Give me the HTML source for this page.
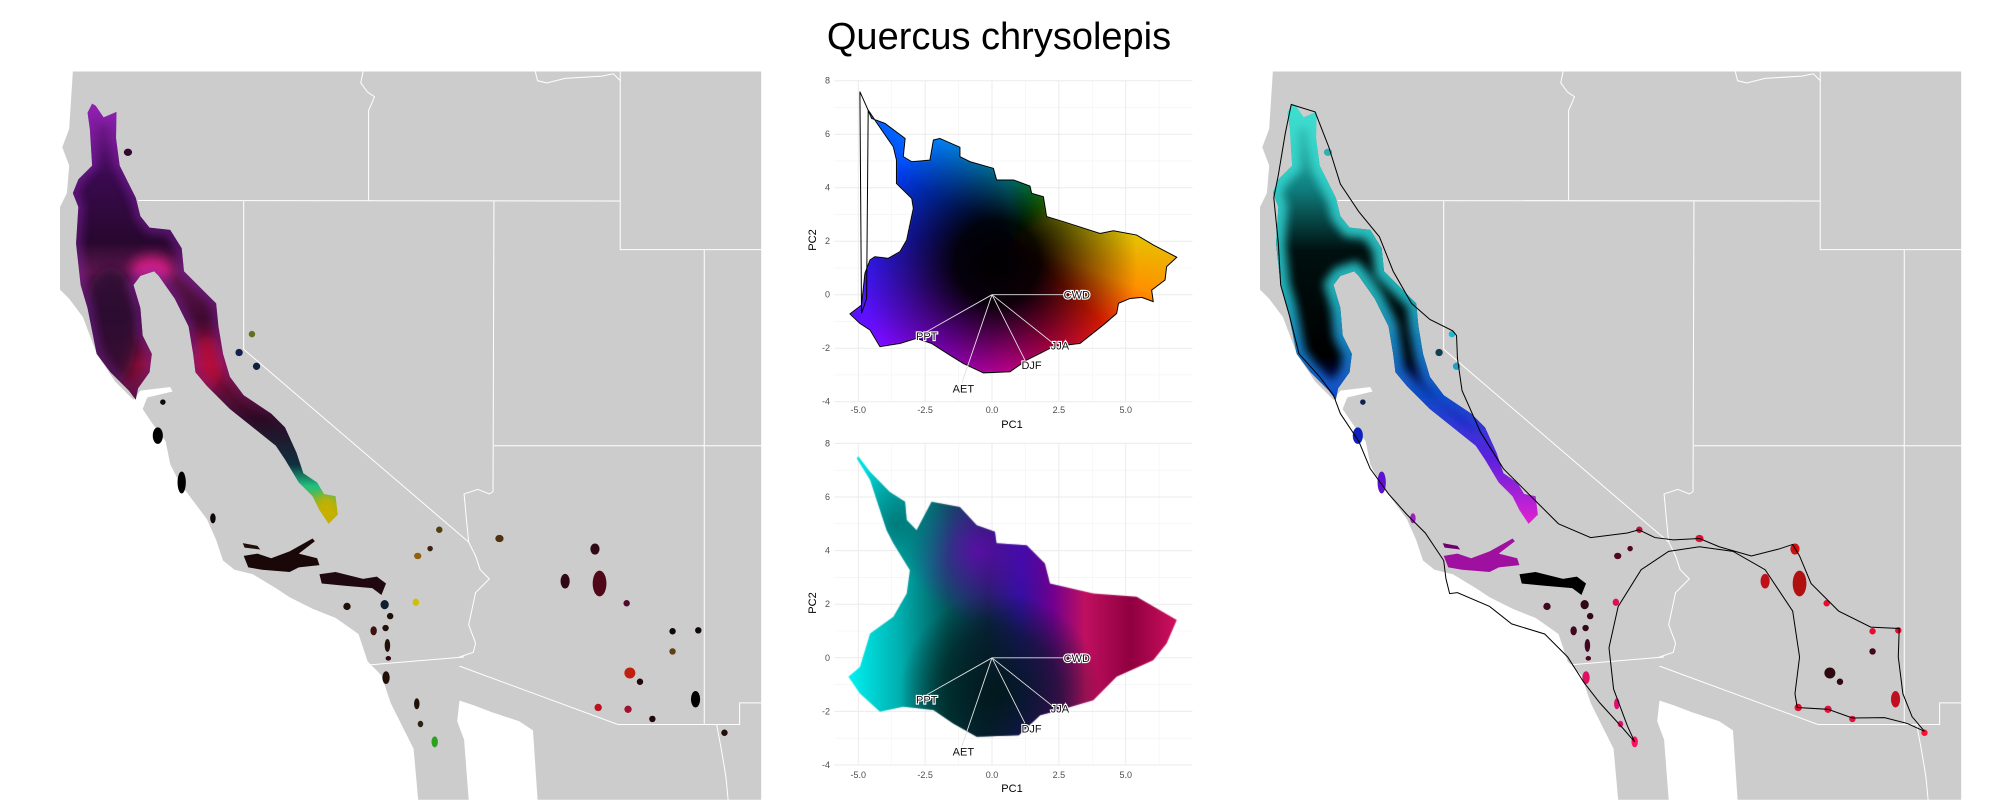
<!DOCTYPE html>
<html><head><meta charset="utf-8"><style>
html,body{margin:0;padding:0;background:#fff;}
#wrap{position:relative;width:2000px;height:800px;overflow:hidden;font-family:"Liberation Sans",sans-serif;}
svg,canvas{position:absolute;left:0;top:0;}
</style></head><body>
<div id="wrap">
<svg id="base" width="2000" height="800">
<text x="999" y="49" text-anchor="middle" font-size="38" fill="#000">Quercus chrysolepis</text>
<defs>
 <linearGradient id="gL" gradientUnits="userSpaceOnUse" x1="0" y1="95" x2="0" y2="1010">
  <stop offset="0" stop-color="#8a20a8"/><stop offset="0.17" stop-color="#3a0a50"/><stop offset="0.33" stop-color="#28082e"/>
  <stop offset="0.4" stop-color="#601850"/><stop offset="0.51" stop-color="#400a30"/><stop offset="0.62" stop-color="#901038"/>
  <stop offset="0.75" stop-color="#2a0a20"/><stop offset="0.86" stop-color="#103040"/><stop offset="0.91" stop-color="#20c080"/><stop offset="0.97" stop-color="#c0b000"/>
 </linearGradient>
 <linearGradient id="gR" gradientUnits="userSpaceOnUse" x1="0" y1="95" x2="0" y2="1010">
  <stop offset="0" stop-color="#40d8c8"/><stop offset="0.2" stop-color="#108080"/><stop offset="0.35" stop-color="#001010"/>
  <stop offset="0.6" stop-color="#000"/><stop offset="0.75" stop-color="#0818b0"/><stop offset="0.85" stop-color="#5020d0"/><stop offset="0.95" stop-color="#e020d0"/>
 </linearGradient>
 <linearGradient id="gRs" gradientUnits="userSpaceOnUse" x1="0" y1="95" x2="0" y2="1010">
  <stop offset="0" stop-color="#40e0d0"/><stop offset="0.45" stop-color="#20b8c0"/><stop offset="0.7" stop-color="#1050d0"/><stop offset="0.85" stop-color="#6020e0"/><stop offset="1" stop-color="#e020d0"/>
 </linearGradient>
 <linearGradient id="gLs" gradientUnits="userSpaceOnUse" x1="0" y1="95" x2="0" y2="1010">
  <stop offset="0" stop-color="#9a20c0"/><stop offset="0.6" stop-color="#7a20a0"/><stop offset="0.8" stop-color="#7a20a0" stop-opacity="0"/><stop offset="1" stop-color="#7a20a0" stop-opacity="0"/>
 </linearGradient>
 <filter id="blur" x="-20%" y="-20%" width="140%" height="140%"><feGaussianBlur stdDeviation="10"/></filter>
 <filter id="blur2" x="-50%" y="-50%" width="200%" height="200%"><feGaussianBlur stdDeviation="14"/></filter>
 <clipPath id="mainClip"><path id="mainShapeDef" d=""/></clipPath>
</defs>
<g id="mapL" transform="translate(60,60) scale(0.4592)"></g>
<g id="mapR" transform="translate(1260,60) scale(0.4592)"></g>
<g id="axesTop"></g>
<g id="axesBot"></g>
</svg>
<canvas id="cv" width="2000" height="800"></canvas>
<svg id="over" width="2000" height="800"></svg>
</div>
<script>
// ---- scatter data (PC space) ----
const xTicks=[-5,-2.5,0,2.5,5];
const xTickLabels=["-5.0","-2.5","0.0","2.5","5.0"];
const yTicks=[-4,-2,0,2,4,6,8];
const yTickLabels=["-4","-2","0","2","4","6","8"];
const loadNames=["CWD","JJA","DJF","AET","PPT"];
const loadX=[2.73,2.29,1.23,-1.13,-2.44];
const loadY=[0,-1.82,-2.44,-3.31,-1.38];
const labelX=[3.17,2.54,1.48,-1.07,-2.44];
const labelY=[0,-1.9,-2.63,-3.5,-1.55];
const hullTopX=[-4.94,-4.69,-4.50,-4.00,-3.25,-3.32,-3.00,-2.32,-2.19,-1.95,-1.20,-1.20,-0.82,0.05,0.17,0.80,1.42,1.48,1.92,2.04,2.67,4.04,4.54,5.41,6.03,6.91,6.53,6.47,5.97,6.03,5.60,5.16,4.73,4.66,4.16,3.29,2.29,1.80,1.30,0.67,-0.32,-1.07,-1.57,-2.26,-2.82,-3.44,-4.19,-4.56,-4.94,-5.31,-4.88,-4.75,-4.56,-4.38,-3.88,-3.44,-3.19,-2.94,-3.00,-3.57,-3.57,-3.69,-4.38,-4.63,-4.69,-4.88];
const hullTopY=[7.59,7.03,6.59,6.40,5.84,5.16,4.97,5.03,5.78,5.84,5.51,5.16,4.97,4.72,4.29,4.29,4.06,3.79,3.66,2.92,2.73,2.29,2.39,2.23,1.86,1.40,1.05,0.55,0.17,-0.26,-0.10,-0.14,-0.32,-0.70,-1.13,-1.82,-1.94,-2.19,-2.44,-2.88,-2.92,-2.57,-2.26,-1.82,-1.63,-1.82,-1.94,-1.32,-1.07,-0.72,-0.39,0.80,1.30,1.42,1.36,1.61,2.04,3.23,3.60,4.16,5.03,5.53,6.53,6.90,-0.14,-0.70];
const hullBotX=[-5.0,-4.56,-3.82,-3.25,-3.19,-2.82,-2.26,-1.20,-0.57,0.11,0.17,1.30,1.98,2.17,3.79,4.54,5.41,6.91,6.53,6.03,4.66,3.79,2.54,1.80,1.00,-0.57,-1.45,-2.19,-3.32,-4.19,-4.94,-5.37,-4.94,-4.56,-3.69,-3.19,-3.07,-3.69,-3.94,-4.56,-5.06];
const hullBotY=[7.52,6.94,6.19,5.82,5.14,4.76,5.82,5.63,4.95,4.70,4.27,4.20,3.52,2.77,2.40,2.34,2.28,1.41,0.53,-0.09,-0.71,-1.58,-1.95,-2.14,-2.89,-2.95,-2.45,-1.95,-1.83,-2.01,-1.33,-0.71,-0.34,0.91,1.53,2.40,3.27,4.27,4.76,6.63,7.44];

const NS='http://www.w3.org/2000/svg';
function mk(tag,attrs,parent){const e=document.createElementNS(NS,tag);for(const k in attrs)e.setAttribute(k,attrs[k]);if(parent)parent.appendChild(e);return e;}

const sx=v=>992+v*26.74;
const syTop=v=>294.7-v*26.75;
const syBot=v=>657.8-v*26.8;

function drawAxes(g,sy,tickY,titleY,pc2Y){
  const x0=sx(-5.9),x1=sx(7.5),y0=sy(-4),y1=sy(8);
  for(let v=-3.75;v<7.5;v+=2.5){const l=mk('line',{x1:sx(v),x2:sx(v),y1:y1,y2:y0,stroke:'#f2f2f2','stroke-width':0.6},g);}
  for(let v=-3;v<8;v+=2){const l=mk('line',{x1:x0,x2:x1,y1:sy(v),y2:sy(v),stroke:'#f2f2f2','stroke-width':0.6},g);}
  xTicks.forEach((v,i)=>{const l=mk('line',{x1:sx(v),x2:sx(v),y1:y1,y2:y0,stroke:'#ebebeb','stroke-width':1},g);
    const t=mk('text',{x:sx(v),y:tickY,'text-anchor':'middle','font-size':9,fill:'#4d4d4d'},g);t.textContent=xTickLabels[i];});
  yTicks.forEach((v,i)=>{const l=mk('line',{x1:x0,x2:x1,y1:sy(v),y2:sy(v),stroke:'#ebebeb','stroke-width':1},g);
    const t=mk('text',{x:830,y:sy(v)+3,'text-anchor':'end','font-size':9,fill:'#4d4d4d'},g);t.textContent=yTickLabels[i];});
  const a=mk('text',{x:1012,y:titleY,'text-anchor':'middle','font-size':11,fill:'#000'},g);a.textContent='PC1';
  const b=mk('text',{x:816,y:pc2Y,'text-anchor':'middle','font-size':11,fill:'#000',transform:'rotate(-90 816 '+pc2Y+')'},g);b.textContent='PC2';
}
drawAxes(document.getElementById('axesTop'),syTop,413,428,240);
drawAxes(document.getElementById('axesBot'),syBot,778,792,603);

const cv=document.getElementById('cv');const ctx=cv.getContext('2d');
function hullPath(X,Y,sy){ctx.beginPath();X.forEach((v,i)=>{const px=sx(v),py=sy(Y[i]);i?ctx.lineTo(px,py):ctx.moveTo(px,py);});ctx.closePath();}
// top: fill the point cloud (hull minus the closing vertical strip)
ctx.save();hullPath(hullTopX.slice(0,-2),hullTopY.slice(0,-2),syTop);ctx.clip();
const cx=sx(0.8),cy=syTop(2.1);
if(ctx.createConicGradient){
 const cg=ctx.createConicGradient(0,cx,cy);
 [[0,'#e8c000'],[0.06,'#ff9000'],[0.12,'#ff2000'],[0.2,'#ff0060'],[0.26,'#ff00c0'],[0.34,'#b000ff'],[0.42,'#6010ff'],[0.5,'#2020ff'],[0.58,'#0040ff'],[0.66,'#0090ff'],[0.73,'#00d0f0'],[0.8,'#00e060'],[0.86,'#40e000'],[0.93,'#e0e000'],[1,'#e8c000']].forEach(s=>cg.addColorStop(s[0],s[1]));
 ctx.fillStyle=cg;
}else ctx.fillStyle='#600060';
ctx.fillRect(800,60,420,360);
const rcx=sx(0.2),rcy=syTop(1.2);
const rg=ctx.createRadialGradient(rcx,rcy,0,rcx,rcy,140);
rg.addColorStop(0,'rgba(0,0,0,1)');rg.addColorStop(0.3,'rgba(0,0,0,0.95)');rg.addColorStop(0.65,'rgba(0,0,0,0.45)');rg.addColorStop(1,'rgba(0,0,0,0)');
ctx.fillStyle=rg;ctx.fillRect(800,60,420,360);
ctx.restore();
// bottom
ctx.save();hullPath(hullBotX,hullBotY,syBot);ctx.clip();
const lg=ctx.createLinearGradient(sx(-5.3),0,sx(6.9),0);
[[0,'#00f0f0'],[0.15,'#00b0b0'],[0.3,'#005858'],[0.42,'#102850'],[0.52,'#3010a0'],[0.62,'#700090'],[0.72,'#c01060'],[0.86,'#900040'],[1,'#d01060']].forEach(s=>lg.addColorStop(s[0],s[1]));
ctx.fillStyle=lg;ctx.fillRect(800,430,420,360);
const rg2=ctx.createRadialGradient(sx(0.3),syBot(-1.3),0,sx(0.3),syBot(-1.3),100);
rg2.addColorStop(0,'rgba(0,25,25,0.95)');rg2.addColorStop(0.6,'rgba(0,25,25,0.6)');rg2.addColorStop(1,'rgba(0,25,25,0)');
ctx.fillStyle=rg2;ctx.fillRect(800,430,420,360);
const rg3=ctx.createRadialGradient(sx(-0.5),syBot(4),0,sx(-0.5),syBot(4),70);
rg3.addColorStop(0,'rgba(120,0,200,0.7)');rg3.addColorStop(1,'rgba(120,0,200,0)');
ctx.fillStyle=rg3;ctx.fillRect(800,430,420,360);
const rg4=ctx.createRadialGradient(sx(-3.6),syBot(5),0,sx(-3.6),syBot(5),60);
rg4.addColorStop(0,'rgba(0,110,110,0.8)');rg4.addColorStop(1,'rgba(0,110,110,0)');
ctx.fillStyle=rg4;ctx.fillRect(800,430,420,360);
ctx.restore();

const ov=document.getElementById('over');
const hp=mk('polygon',{points:hullTopX.map((v,i)=>sx(v)+','+syTop(hullTopY[i])).join(' '),fill:'none',stroke:'#000','stroke-width':1},ov);

[[syTop,'top'],[syBot,'bottom']].forEach(([sy,nm])=>{
 loadNames.forEach((n,i)=>{
  const l=mk('line',{x1:sx(0),y1:sy(0),x2:sx(loadX[i]),y2:sy(loadY[i]),stroke:'#e0e0e0','stroke-width':0.9},ov);
  
  const t=mk('text',{x:sx(labelX[i]),y:sy(labelY[i])+4,'text-anchor':'middle','font-size':11,fill:'#111',stroke:'#fff','stroke-width':2.2,'paint-order':'stroke'},ov);
  t.textContent=n;
 });
});

// ---- maps ----
const landD="M28,25 L1527,25 L1527,1611 L1040,1611 L1030,1460 L1000,1440 L940,1420 L900,1405 L870,1395 L865,1440 L880,1480 L890,1611 L780,1611 L770,1500 L740,1440 L720,1400 L700,1340 L670,1310 L650,1250 L600,1215 L550,1195 L500,1170 L470,1150 L420,1120 L380,1110 L355,1090 L340,1045 L320,1000 L290,960 L260,920 L240,880 L230,830 L200,790 L180,760 L190,735 L245,722 L240,712 L175,720 L160,740 L120,700 L80,640 L50,560 L20,520 L0,500 L0,320 L15,290 L20,230 L5,190 L20,150 Z";
const stateLines=["M170,306 L1220,307","M660,25 L655,50 L670,70 L685,80 L672,110 L672,307","M1035,25 L1040,45 L1060,50 L1100,40 L1180,35 L1205,30 L1220,45","M1220,25 L1220,413 L1527,413","M400,307 L400,630 L890,1050","M945,307 L943,940 L935,945 L910,935 L880,945 L885,1000 L890,1050 L905,1080 L915,1110 L935,1130 L905,1160 L890,1230 L905,1270 L900,1290 L870,1300","M945,840 L1527,840","M1403,413 L1403,1447","M665,1318 L880,1300","M870,1320 L1215,1447 L1480,1447 L1480,1400 L1527,1400","M1430,1447 L1440,1500 L1450,1560 L1455,1611"];
const mainD="M70,95 L78,100 L95,125 L123,113 L122,170 L130,230 L165,300 L175,340 L195,365 L240,370 L265,410 L270,460 L320,510 L340,530 L345,580 L355,640 L370,690 L400,730 L460,770 L490,800 L515,855 L530,900 L560,920 L575,945 L600,950 L605,990 L585,1010 L565,980 L550,950 L520,920 L490,870 L470,840 L420,800 L370,760 L320,710 L295,680 L290,640 L280,580 L250,520 L215,470 L205,460 L175,470 L160,490 L175,540 L180,600 L200,640 L195,680 L170,715 L165,740 L150,720 L110,680 L80,640 L60,540 L45,490 L35,400 L40,320 L28,290 L40,260 L70,230 L65,150 L60,115 Z";
const transD=["M400,1080 L430,1075 L460,1085 L500,1070 L550,1042 L555,1048 L520,1075 L560,1085 L565,1100 L520,1105 L500,1115 L440,1110 L410,1105 Z","M565,1120 L600,1115 L660,1130 L690,1125 L710,1140 L700,1165 L680,1150 L620,1145 L570,1140 Z","M398,1052 L430,1058 L436,1066 L402,1062 Z"];
const transColL=["#1a0808","#200810","#201008"],transColR=["#a010a0","#000000","#700070"];
const blobs=[[148,201,9,8,'#300830','#30b0b0'],[418,597,7,7,'#607020','#20b8d0'],[390,637,8,8,'#102050','#104050'],[428,667,8,8,'#102040','#20a0c8'],[224,745,6,6,'#100810','#102050'],[213,818,11,18,'#000','#1020c0'],[265,920,9,24,'#000','#6010d0'],[333,998,6,11,'#100808','#a020c0'],[826,1023,7,7,'#504010','#c01040'],[957,1042,9,8,'#503010','#e01030'],[806,1064,6,6,'#402010','#500820'],[779,1080,8,7,'#906010','#500820'],[1165,1065,10,12,'#300818','#d01010'],[1100,1135,10,16,'#300818','#c01018'],[1175,1140,15,28,'#500818','#b01010'],[775,1181,7,8,'#d0c000','#e01050'],[1234,1183,7,7,'#500830','#e01030'],[625,1190,8,8,'#201008','#400820'],[707,1186,9,10,'#102030','#300818'],[719,1211,7,7,'#201008','#300818'],[683,1243,7,10,'#401010','#400820'],[709,1237,7,7,'#201008','#300818'],[713,1275,6,14,'#201008','#400820'],[715,1303,6,5,'#300810','#500820'],[1334,1244,7,7,'#100808','#e01030'],[1390,1242,7,7,'#100808','#e01030'],[1334,1288,7,7,'#604010','#400818'],[1241,1335,12,12,'#c02010','#300810'],[1263,1354,7,7,'#200808','#300810'],[710,1345,8,14,'#201008','#e01060'],[1384,1392,10,18,'#000','#c01020'],[1172,1410,8,8,'#c01020','#e01030'],[1237,1414,8,8,'#a01030','#e01040'],[1290,1435,7,7,'#200808','#e01040'],[1447,1465,7,7,'#201008','#ff1030'],[777,1402,6,12,'#201008','#e01070'],[785,1446,6,7,'#302010','#e01070'],[816,1485,7,12,'#30a020','#ff1060']];
const hullRD="M68,97 L120,113 L150,190 L175,270 L215,330 L260,385 L290,460 L330,530 L370,565 L420,590 L428,600 L430,650 L440,720 L480,810 L530,890 L600,960 L650,1010 L720,1040 L800,1030 L825,1023 L860,1040 L900,1045 L957,1042 L1000,1060 L1070,1080 L1130,1065 L1160,1055 L1175,1080 L1200,1140 L1260,1200 L1330,1235 L1392,1238 L1390,1300 L1400,1380 L1420,1430 L1447,1462 L1410,1445 L1360,1432 L1290,1433 L1237,1414 L1170,1410 L1165,1380 L1175,1300 L1160,1200 L1100,1110 L1030,1070 L957,1060 L890,1070 L830,1110 L780,1190 L760,1280 L770,1370 L800,1450 L816,1485 L790,1455 L740,1400 L705,1355 L670,1300 L620,1250 L548,1228 L500,1190 L430,1160 L413,1162 L405,1130 L400,1090 L360,1030 L320,990 L280,945 L240,890 L215,830 L175,770 L160,730 L130,690 L85,640 L65,560 L45,490 L40,400 L30,300 L40,250 L55,160 Z";

document.getElementById('mainShapeDef').setAttribute('d',mainD);
function drawMap(g,side){
 const land=mk('path',{d:landD,fill:'#cccccc'},g);
 stateLines.forEach(d=>{const p=mk('path',{d:d,fill:'none',stroke:'#fff','stroke-width':2.2},g);});
 const m=mk('path',{d:mainD,fill:side==='L'?'url(#gL)':'url(#gR)'},g);
 const cg=mk('g',{'clip-path':'url(#mainClip)'},g);
 
 if(side==='R'){
  const s=mk('path',{d:mainD,fill:'none',stroke:'url(#gRs)','stroke-width':40,filter:'url(#blur)',opacity:0.95},cg);
 } else {
  const e=mk('ellipse',{cx:200,cy:455,rx:45,ry:28,fill:'#ff2090',opacity:0.8,filter:'url(#blur2)'},cg);
  const e3=mk('ellipse',{cx:320,cy:660,rx:35,ry:60,fill:'#d01040',opacity:0.6,filter:'url(#blur2)'},cg);
  const e2=mk('ellipse',{cx:110,cy:580,rx:60,ry:130,fill:'#2a0830',opacity:0.85,filter:'url(#blur2)'},cg);
  const e4=mk('path',{d:mainD,fill:'none',stroke:'url(#gLs)','stroke-width':24,opacity:0.5,filter:'url(#blur)'},cg);
  const e5=mk('ellipse',{cx:580,cy:975,rx:22,ry:30,fill:'#c8b000',opacity:0.9,filter:'url(#blur)'},cg);
 }
 transD.forEach((d,i)=>{const p=mk('path',{d:d,fill:side==='L'?transColL[i]:transColR[i]},g);});
 blobs.forEach(b=>{const e=mk('ellipse',{cx:b[0],cy:b[1],rx:b[2],ry:b[3],fill:side==='L'?b[4]:b[5]},g);});
 if(side==='R'){const h=mk('path',{d:hullRD,fill:'none',stroke:'#000','stroke-width':2.2},g);}
}
drawMap(document.getElementById('mapL'),'L');
drawMap(document.getElementById('mapR'),'R');
</script>
</body></html>
